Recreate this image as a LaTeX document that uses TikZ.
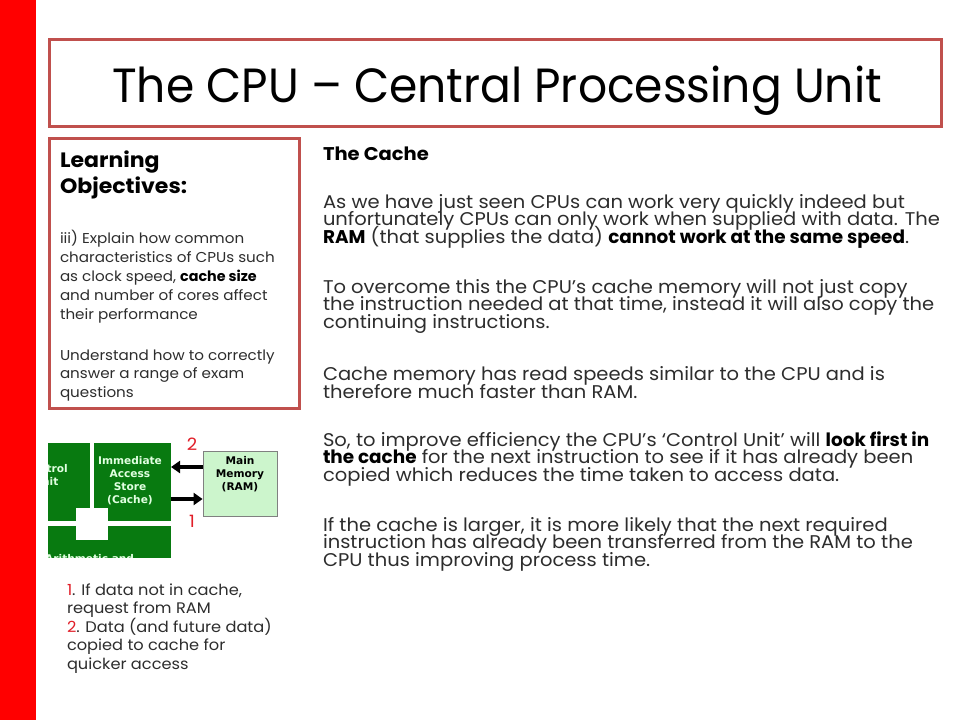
\documentclass[tikz,border=0pt]{standalone}
\usepackage{fontspec}
\usetikzlibrary{arrows.meta}
\setmainfont{Poppins}[FakeStretch=1.06]
\newfontfamily\titlefont{Poppins}[FakeStretch=0.95]
\newfontfamily\bbfam{Poppins}[FakeStretch=1.0]
\newfontfamily\dv{DejaVu Sans}
\newcommand\bb[1]{{\bbfam\bfseries\color{black}#1}}
\definecolor{boxred}{RGB}{192,80,77}
\definecolor{barred}{RGB}{255,0,0}
\definecolor{numred}{RGB}{225,30,40}
\definecolor{txt}{RGB}{45,45,45}
\definecolor{cpugreen}{RGB}{8,122,16}
\definecolor{ramgreen}{RGB}{204,245,204}
\definecolor{palegreen}{RGB}{225,255,225}
\tikzset{
  boxframe/.style={draw=boxred, line width=3pt},
  tline/.style={anchor=base west, inner sep=0pt, outer sep=0pt, text=txt},
  bodytxt/.style={tline, font=\fontsize{18.4}{19}\selectfont},
  lotxt/.style={tline, font=\fontsize{14.3}{15}\selectfont},
  captxt/.style={tline, font=\fontsize{15.3}{16}\selectfont},
  diagtxt/.style={font=\dv\bfseries\fontsize{10.6}{13}\selectfont, align=center, inner sep=0pt},
  arrline/.style={line width=3.6pt, -{Triangle[length=9pt,width=12pt]}},
  numtxt/.style={text=numred, font=\fontsize{17}{18}\selectfont, inner sep=0pt},
}
\begin{document}
\begin{tikzpicture}[x=1pt,y=-1pt]
\useasboundingbox (0,0) rectangle (960,720);
\fill[white] (0,0) rectangle (960,720);
\fill[barred] (0,0) rectangle (36,720);
% title
\draw[boxframe] (49.5,39.5) rectangle (941.5,126.5);
\node[anchor=base west, inner sep=0pt, font=\titlefont\fontsize{48}{50}\selectfont] (title) at (112,102) {The CPU – Central Processing Unit};
% learning objectives
\draw[boxframe] (49.5,138.5) rectangle (299.5,408.5);
\node[tline, text=black, font=\bfseries\fontsize{20.8}{21}\selectfont] (lo1) at (60,167) {Learning};
\node[tline, text=black, font=\bfseries\fontsize{20.8}{21}\selectfont] (lo2) at (60,193) {Objectives:};
\node[lotxt] (l1) at (60,243) {iii) Explain how common};
\node[lotxt] (l2) at (60,262.5) {characteristics of CPUs such};
\node[lotxt] (l3) at (60,281.5) {as clock speed, \bb{cache size}};
\node[lotxt] (l4) at (60,300.5) {and number of cores affect};
\node[lotxt] (l5) at (60,319) {their performance};
\node[lotxt] (l6) at (60,360) {Understand how to correctly};
\node[lotxt] (l7) at (60,378.5) {answer a range of exam};
\node[lotxt] (l8) at (60,397) {questions};
% right text
\node[tline, text=black, font=\bfseries\fontsize{18.4}{19}\selectfont] (hc) at (323,160) {The Cache};
\node[bodytxt] (b1) at (323,208) {As we have just seen CPUs can work very quickly indeed but};
\node[bodytxt] (b2) at (323,225.7) {unfortunately CPUs can only work when supplied with data. The};
\node[bodytxt] (b3) at (323,243.4) {\bb{RAM} (that supplies the data) \bb{cannot work at the same speed}.};
\node[bodytxt] (b4) at (323,293) {To overcome this the CPU’s cache memory will not just copy};
\node[bodytxt] (b5) at (323,310.7) {the instruction needed at that time, instead it will also copy the};
\node[bodytxt] (b6) at (323,328.4) {continuing instructions.};
\node[bodytxt] (b7) at (323,380) {Cache memory has read speeds similar to the CPU and is};
\node[bodytxt] (b8) at (323,398) {therefore much faster than RAM.};
\node[bodytxt] (b9) at (323,446) {So, to improve efficiency the CPU’s ‘Control Unit’ will \bb{look first in}};
\node[bodytxt] (b10) at (323,463.7) {\bb{the cache} for the next instruction to see if it has already been};
\node[bodytxt] (b11) at (323,481.4) {copied which reduces the time taken to access data.};
\node[bodytxt] (b12) at (323,531) {If the cache is larger, it is more likely that the next required};
\node[bodytxt] (b13) at (323,548.7) {instruction has already been transferred from the RAM to the};
\node[bodytxt] (b14) at (323,566.4) {CPU thus improving process time.};
% diagram
\begin{scope}
\clip (48,443) rectangle (172,557);
\fill[cpugreen] (20,443) rectangle (90,521);
\fill[cpugreen] (94,443) rectangle (171,521);
\fill[cpugreen] (20,526) rectangle (171,580);
\fill[white] (76,508) rectangle (108,540);
\node[diagtxt, text=palegreen, anchor=east] (cu) at (68,475) {Control\\Unit};
\node[diagtxt, text=palegreen, anchor=base west] (alu) at (45,562.5) {Arithmetic and};
\end{scope}
\node[diagtxt, text=palegreen] (cachetxt) at (130,480.5) {Immediate\\Access\\Store\\(Cache)};
\coordinate (cache) at (171,482);
\node[draw=gray, line width=0.8pt, fill=ramgreen, minimum width=74pt, minimum height=65pt, inner sep=0pt] (ram) at (240,483.5) {};
\node[diagtxt, text=black, anchor=north] (ramtxt) at (240,456) {Main\\Memory\\(RAM)};
\draw[arrline] (ram.west |- 0,467) -- (cache |- 0,467);
\draw[arrline] (cache |- 0,499) -- (ram.west |- 0,499);
\node[numtxt] (n2) at (192,444) {2};
\node[numtxt] (n1) at (192,521) {1};
% caption
\node[captxt] (c1) at (67,595) {{\color{numred}1}. If data not in cache,};
\node[captxt] (c2) at (67,613.5) {request from RAM};
\node[captxt] (c3) at (67,632) {{\color{numred}2}. Data (and future data)};
\node[captxt] (c4) at (67,650.5) {copied to cache for};
\node[captxt] (c5) at (67,669) {quicker access};
\end{tikzpicture}
\end{document}
